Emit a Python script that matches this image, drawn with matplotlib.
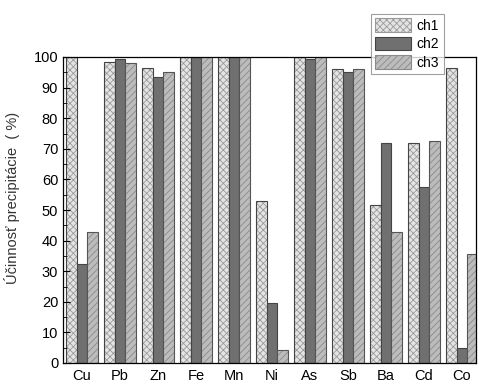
import numpy as np
import matplotlib
matplotlib.use('Agg')
import matplotlib.pyplot as plt
import matplotlib.ticker as mtick

plt.rcParams['font.family'] = ['Liberation Sans', 'DejaVu Sans']
plt.rcParams['hatch.linewidth'] = 0.6

# data
elements = ['Cu', 'Pb', 'Zn', 'Fe', 'Mn', 'Ni', 'As', 'Sb', 'Ba', 'Cd', 'Co']
ch1 = [100, 98.5, 96.5, 100, 100, 53, 100, 96, 51.5, 72, 96.5]
ch2 = [32.5, 99.5, 93.5, 100, 100, 19.5, 99.5, 95, 72, 57.5, 5]
ch3 = [42.7, 98, 95, 100, 100, 4.3, 100, 96, 42.7, 72.5, 35.6]

fig = plt.figure(figsize=(4.79, 3.85), dpi=100)
ax = fig.add_axes([63 / 479, 22 / 385, 413 / 479, 306 / 385])

x = np.arange(len(elements))
w = 0.285

# hatched fill in a light colour, then outline on top
h1 = ax.bar(x - w, ch1, w, color='#e4e4e4', edgecolor='#9a9a9a', hatch='xxxxx', linewidth=0)
ax.bar(x - w, ch1, w, fill=False, edgecolor='#444444', linewidth=0.8)
h2 = ax.bar(x, ch2, w, color='#707070', edgecolor='#444444', linewidth=0.8)
h3 = ax.bar(x + w, ch3, w, color='#bcbcbc', edgecolor='#8a8a8a', hatch='/////', linewidth=0)
ax.bar(x + w, ch3, w, fill=False, edgecolor='#555555', linewidth=0.8)

ax.set_xlim(-0.5, 10.37)
ax.set_ylim(0, 100)
ax.set_xticks(x)
ax.set_xticklabels(elements, fontsize=10.5)
ax.tick_params(axis='x', length=0, pad=4)
ax.yaxis.set_major_locator(mtick.MultipleLocator(10))
ax.yaxis.set_minor_locator(mtick.MultipleLocator(5))
ax.tick_params(axis='y', which='major', direction='in', length=5, labelsize=10.5)
ax.tick_params(axis='y', which='minor', direction='in', length=3)
ax.set_ylabel('Účinnosť precipitácie  ( %)', fontsize=10.5, color='#333333')
ax.yaxis.set_label_coords(-0.105, 0.54)

for s in ax.spines.values():
    s.set_linewidth(0.9)

leg = fig.legend([h1, h2, h3], ['ch1', 'ch2', 'ch3'], loc='upper left',
                 bbox_to_anchor=(371 / 479, 1 - 14 / 385),
                 fontsize=10, frameon=True, fancybox=False, edgecolor='#888888',
                 handlelength=2.6, handleheight=1.1, borderpad=0.3, labelspacing=0.3,
                 handletextpad=0.4, borderaxespad=0)
leg.get_frame().set_linewidth(0.8)
for p in leg.get_patches():
    p.set_linewidth(0.8)

fig.savefig('out.png', dpi=100)
